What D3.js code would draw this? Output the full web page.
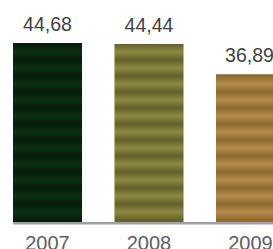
<!DOCTYPE html>
<html><head><meta charset="utf-8">
<script src="https://cdn.jsdelivr.net/npm/d3@7"></script>
<style>html,body{margin:0;padding:0;background:#fff;overflow:hidden}</style>
</head><body>
<script>
const categories = ["2007", "2008", "2009"];
const values = [44.68, 44.44, 36.89];
const valueLabels = ["44,68", "44,44", "36,89"];
const colorsLight = ["#0d3213", "#8b8941", "#b48d4d"];
const colorsDark = ["#081b0b", "#64602a", "#8d692f"];

const W = 273, H = 249;
const svg = d3.select("body").append("svg").attr("width", W).attr("height", H);
const baseY = 222;
const x = d3.scaleBand().domain(categories).range([13, 285]).paddingInner(0.32).paddingOuter(0);
const y = d3.scaleLinear().domain([0, 44.68]).range([baseY, 43]);

const defs = svg.append("defs");
categories.forEach((c, i) => {
  const g = defs.append("linearGradient").attr("id", "g" + i)
    .attr("gradientUnits", "userSpaceOnUse").attr("x1", 0).attr("x2", 0)
    .attr("y1", 44).attr("y2", 60).attr("spreadMethod", "repeat");
  g.append("stop").attr("offset", 0).attr("stop-color", colorsDark[i]);
  g.append("stop").attr("offset", 0.5).attr("stop-color", colorsLight[i]);
  g.append("stop").attr("offset", 1).attr("stop-color", colorsDark[i]);
});

svg.selectAll("rect.bar").data(values).join("rect").attr("class", "bar")
  .attr("x", (d, i) => x(categories[i])).attr("width", x.bandwidth())
  .attr("y", d => y(d)).attr("height", d => baseY - y(d))
  .attr("fill", (d, i) => `url(#g${i})`);

svg.append("rect").attr("x", 13).attr("y", baseY).attr("width", W - 13).attr("height", 2.5).attr("fill", "#a0a0a4");

svg.selectAll("text.val").data(values).join("text").attr("class", "val")
  .attr("transform", (d, i) => `translate(${x(categories[i]) + x.bandwidth() / 2 - (i === 2 ? 1 : 0)},${y(d) - 12}) scale(0.93,1)`)
  .attr("text-anchor", "middle")
  .style("font-family", "'Liberation Sans Narrow', 'Liberation Sans', sans-serif")
  .style("font-size", "21px").attr("fill", "#3f3f42")
  .text((d, i) => valueLabels[i]);

svg.selectAll("text.cat").data(categories).join("text").attr("class", "cat")
  .attr("x", d => x(d) + x.bandwidth() / 2)
  .attr("y", 249.5)
  .attr("text-anchor", "middle")
  .style("font-family", "'Liberation Sans Narrow', 'Liberation Sans', sans-serif")
  .style("font-size", "20px").attr("fill", "#5e5e62")
  .text(d => d);
</script>
</body></html>
